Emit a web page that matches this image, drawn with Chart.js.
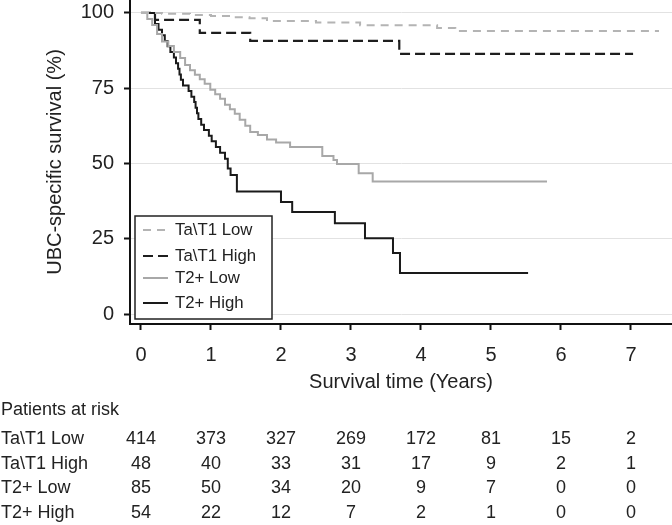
<!DOCTYPE html>
<html>
<head>
<meta charset="utf-8">
<script src="https://cdn.jsdelivr.net/npm/chart.js@4"></script>
<style>
  html, body { margin: 0; padding: 0; background: #fff; }
  #wrap { width: 672px; height: 525px; position: relative; }
</style>
</head>
<body>
<div id="wrap"><canvas id="c" width="672" height="525"></canvas></div>
<script>
// ---- Data ----
const groupNames = ["Ta\\T1 Low", "Ta\\T1 High", "T2+ Low", "T2+ High"];

const taT1LowTimes = [0, 0.3, 0.7, 1.0, 1.3, 1.55, 1.8, 2.5, 3.13, 4.23, 4.49, 7.4];
const taT1LowSurv  = [100, 99.7, 99.3, 99.0, 98.6, 98.2, 97.3, 96.8, 95.9, 95.0, 94.0, 94.0];

const taT1HighTimes = [0, 0.2, 0.84, 1.56, 3.69, 7.03];
const taT1HighSurv  = [100, 97.7, 93.4, 90.7, 86.4, 86.4];

const t2LowTimes = [0, 0.09, 0.16, 0.23, 0.3, 0.39, 0.47, 0.56, 0.63, 0.7, 0.77, 0.84, 0.91, 0.99, 1.06, 1.13, 1.2, 1.27, 1.34, 1.41, 1.49, 1.56, 1.67, 1.8, 1.93, 2.13, 2.59, 2.75, 2.8, 3.11, 3.31, 5.8];
const t2LowSurv  = [100, 98, 96, 93, 90.5, 89, 87, 85, 82.7, 81, 79.5, 78, 76.5, 74.5, 73, 71.5, 69.5, 68, 66.5, 64.5, 62.5, 60.5, 59.5, 58, 57, 55.5, 52.5, 51.2, 49.8, 46.8, 44.0, 44.0];

const t2HighTimes = [0, 0.2, 0.25, 0.3, 0.34, 0.38, 0.42, 0.47, 0.5, 0.53, 0.55, 0.57, 0.6, 0.68, 0.72, 0.76, 0.78, 0.8, 0.82, 0.86, 0.9, 0.97, 1.01, 1.07, 1.13, 1.2, 1.24, 1.28, 1.37, 2.0, 2.16, 2.77, 3.2, 3.6, 3.7, 5.53];
const t2HighSurv  = [100, 96.3, 94.4, 92.6, 90.7, 88.9, 87.0, 85.2, 83.3, 81.5, 79.6, 77.8, 75.9, 74.1, 72.2, 70.4, 68.5, 66.7, 64.8, 62.9, 61.1, 59.2, 57.4, 55.5, 53.6, 51.6, 48.3, 46.2, 40.7, 37.2, 33.9, 30.2, 25.2, 20.3, 13.6, 13.6];

const xTicks = [0, 1, 2, 3, 4, 5, 6, 7];
const yTicks = [0, 25, 50, 75, 100];

const atRiskTitle = "Patients at risk";
const atRiskTaT1Low  = [414, 373, 327, 269, 172, 81, 15, 2];
const atRiskTaT1High = [48, 40, 33, 31, 17, 9, 2, 1];
const atRiskT2Low    = [85, 50, 34, 20, 9, 7, 0, 0];
const atRiskT2High   = [54, 22, 12, 7, 2, 1, 0, 0];
const atRiskRows = [atRiskTaT1Low, atRiskTaT1High, atRiskT2Low, atRiskT2High];

// ---- Helpers ----
const FONT = "'Liberation Sans', Arial, Helvetica, sans-serif";
function pts(ts, ss) { return ts.map((t, i) => ({ x: t, y: ss[i] })); }

const datasets = [
  { label: groupNames[0], data: pts(taT1LowTimes, taT1LowSurv), borderColor: '#b4b4b4', borderWidth: 2, borderDash: [8, 6] },
  { label: groupNames[1], data: pts(taT1HighTimes, taT1HighSurv), borderColor: '#1e1e1e', borderWidth: 2.2, borderDash: [10, 5] },
  { label: groupNames[2], data: pts(t2LowTimes, t2LowSurv), borderColor: '#a8a8a8', borderWidth: 2, borderDash: [] },
  { label: groupNames[3], data: pts(t2HighTimes, t2HighSurv), borderColor: '#1a1a1a', borderWidth: 2, borderDash: [] }
].map(d => Object.assign(d, { stepped: true, pointRadius: 0, fill: false, tension: 0 }));

const legendPlugin = {
  id: 'kmLegend',
  afterDatasetsDraw(chart) {
    const ctx = chart.ctx, ca = chart.chartArea;
    const bx = ca.left + 5, bw = 137, bh = 103, by = ca.bottom - 5 - bh;
    ctx.save();
    ctx.fillStyle = '#fff';
    ctx.fillRect(bx, by, bw, bh);
    ctx.strokeStyle = '#222';
    ctx.lineWidth = 1.5;
    ctx.strokeRect(bx, by, bw, bh);
    const rowYs = [14, 40, 62, 87];
    chart.data.datasets.forEach((ds, i) => {
      const y = by + rowYs[i];
      ctx.strokeStyle = ds.borderColor;
      ctx.lineWidth = ds.borderWidth;
      ctx.setLineDash(ds.borderDash || []);
      ctx.beginPath();
      ctx.moveTo(bx + 8, y);
      ctx.lineTo(bx + 33, y);
      ctx.stroke();
      ctx.setLineDash([]);
      ctx.fillStyle = '#222';
      ctx.font = '16.8px ' + FONT;
      ctx.textAlign = 'left';
      ctx.textBaseline = 'middle';
      ctx.fillText(ds.label, bx + 40, y);
    });
    ctx.restore();
  }
};

const tablePlugin = {
  id: 'atRiskTable',
  afterDraw(chart) {
    const ctx = chart.ctx, xs = chart.scales.x;
    ctx.save();
    ctx.fillStyle = '#222';
    ctx.font = '18px ' + FONT;
    ctx.textBaseline = 'middle';
    ctx.textAlign = 'left';
    ctx.fillText(atRiskTitle, 1, 410);
    const rowY = [439, 464, 488, 513];
    atRiskRows.forEach((row, r) => {
      ctx.textAlign = 'left';
      ctx.fillText(groupNames[r], 1, rowY[r]);
      ctx.textAlign = 'center';
      row.forEach((v, i) => {
        ctx.fillText(String(v), xs.getPixelForValue(xTicks[i]), rowY[r]);
      });
    });
    ctx.restore();
  }
};

new Chart(document.getElementById('c'), {
  type: 'line',
  data: { datasets },
  options: {
    responsive: false,
    animation: false,
    devicePixelRatio: 1,
    layout: { padding: { left: 0, right: 0, top: 0, bottom: 131 } },
    plugins: { legend: { display: false }, tooltip: { enabled: false } },
    scales: {
      x: {
        type: 'linear',
        min: -0.157,
        max: 7.586,
        afterBuildTicks(s) { s.ticks = xTicks.map(v => ({ value: v })); },
        afterFit(s) { s.height = 70; s.paddingLeft = 0; s.paddingRight = 0; },
        grid: { drawOnChartArea: false, drawTicks: true, tickLength: 6, tickColor: '#111', tickWidth: 2 },
        border: { color: '#111', width: 2 },
        ticks: { color: '#222', font: { family: FONT, size: 20 }, padding: 13, maxRotation: 0, autoSkip: false },
        title: { display: true, text: 'Survival time (Years)', color: '#222', font: { family: FONT, size: 20 }, padding: { top: 4, bottom: 0 } }
      },
      y: {
        type: 'linear',
        min: -3.3,
        max: 104.3,
        afterBuildTicks(s) { s.ticks = yTicks.map(v => ({ value: v })); },
        afterFit(s) { s.width = 130; s.paddingTop = 0; s.paddingBottom = 0; },
        grid: { color: '#e2e2e2', lineWidth: 1, drawTicks: true, tickLength: 6, tickColor: '#111', tickWidth: 2 },
        border: { color: '#111', width: 2 },
        ticks: { color: '#222', font: { family: FONT, size: 20 }, padding: 10, autoSkip: false },
        title: { display: true, text: 'UBC-specific survival (%)', color: '#222', font: { family: FONT, size: 20 }, padding: { top: 43, bottom: 0 } }
      }
    }
  },
  plugins: [legendPlugin, tablePlugin]
});
</script>
</body>
</html>
